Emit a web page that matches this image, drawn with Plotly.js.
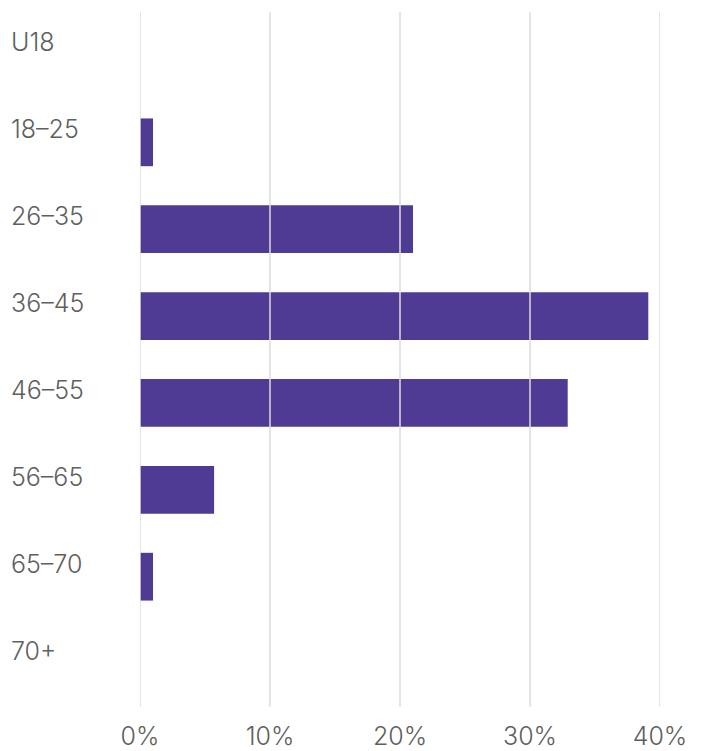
<!DOCTYPE html>
<html>
<head>
<meta charset="utf-8">
<script src="https://cdn.plot.ly/plotly-3.0.1.min.js"></script>
<style>html,body{margin:0;padding:0;background:#fff;}#chart{width:704px;height:751px;}</style>
</head>
<body>
<div id="chart"></div>
<script>
const categories = ["U18", "18–25", "26–35", "36–45", "46–55", "56–65", "65–70", "70+"];
const shares = [0, 1, 21, 39.1, 32.9, 5.7, 1, 0];
const tickValues = [0, 10, 20, 30, 40];
const tickLabels = ["0%", "10%", "20%", "30%", "40%"];

const FONT = "Inter, Roboto, sans-serif";
const GRAY = "#5f5f5f";

const trace = {
  type: "bar",
  orientation: "h",
  x: shares,
  y: categories,
  marker: { color: "#4f3b94" },
  hoverinfo: "none"
};

const annotations = categories.map(c => ({
  xref: "paper", yref: "y",
  x: -0.252, y: c,
  xanchor: "left", yanchor: "middle",
  yshift: 13,
  text: c,
  showarrow: false,
  font: { family: FONT, size: 25, weight: 300, color: GRAY }
}));

// gridlines drawn above the bars, one per tick value
const gridShapes = tickValues.map(v => ({
  type: "line", layer: "above",
  xref: "x", yref: "paper",
  x0: v, x1: v, y0: 0, y1: 1,
  line: { color: "#dcdcdc", width: 1.5 }
}));

const layout = {
  width: 704, height: 751,
  margin: { l: 140, r: 44, t: 12, b: 44 },
  paper_bgcolor: "#fff",
  plot_bgcolor: "#fff",
  bargap: 0.45,
  showlegend: false,
  xaxis: {
    range: [0, 40],
    tickvals: tickValues,
    ticktext: tickLabels,
    showgrid: false,
    zeroline: false,
    showline: false,
    ticks: "",
    ticklabelstandoff: 12,
    tickfont: { family: FONT, size: 25, weight: 300, color: GRAY },
    fixedrange: true
  },
  yaxis: {
    type: "category",
    categoryorder: "array",
    categoryarray: categories,
    autorange: "reversed",
    showticklabels: false,
    showgrid: false,
    zeroline: false,
    showline: false,
    ticks: "",
    fixedrange: true
  },
  shapes: gridShapes,
  annotations: annotations
};

Plotly.newPlot("chart", [trace], layout, { displayModeBar: false, staticPlot: true });
</script>
</body>
</html>
